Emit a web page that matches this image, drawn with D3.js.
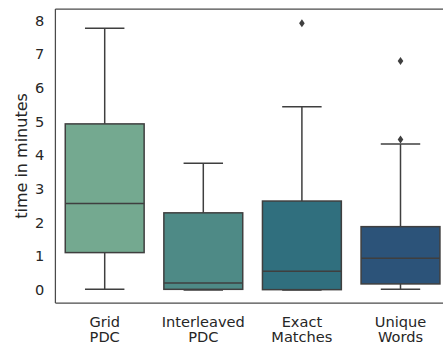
<!DOCTYPE html>
<html><head><meta charset="utf-8">
<script src="https://cdn.jsdelivr.net/npm/d3@7"></script>
<style>body{margin:0;background:#fff}svg{display:block}text{font-family:"DejaVu Sans",sans-serif;fill:#262626}</style>
</head><body>
<script>
const categories = [["Grid","PDC"],["Interleaved","PDC"],["Exact","Matches"],["Unique","Words"]];
const whiskerLow = [0.02, 0.0, 0.0, 0.02];
const q1 = [1.11, 0.02, 0.01, 0.18];
const medians = [2.57, 0.21, 0.56, 0.94];
const q3 = [4.93, 2.29, 2.64, 1.88];
const whiskerHigh = [7.77, 3.76, 5.44, 4.33];
const outliers = [[], [], [7.92], [6.80, 4.47]];
const colors = ["#74a990", "#4e8a86", "#306f7e", "#2c5379"];
const yTicks = [0,1,2,3,4,5,6,7,8];

(function(){
const W = 443, H = 345;
const svg = d3.select("body").append("svg").attr("width", W).attr("height", H);
const pl = 55.4, pr = 449.8, pt = 9, pb = 303;
const x = d3.scaleBand().domain(d3.range(categories.length)).range([pl, pr]);
const y = d3.scaleLinear().domain([-0.386, 8.34]).range([pb, pt]);
const bw = x.bandwidth() * 0.8;
const edge = "#3f3f3f";

const g = svg.append("g");
categories.forEach((c, i) => {
  const cx = x(i) + x.bandwidth() / 2;
  g.append("line").attr("x1", cx).attr("x2", cx).attr("y1", y(q3[i])).attr("y2", y(whiskerHigh[i])).attr("stroke", edge).attr("stroke-width", 1.5);
  g.append("line").attr("x1", cx).attr("x2", cx).attr("y1", y(q1[i])).attr("y2", y(whiskerLow[i])).attr("stroke", edge).attr("stroke-width", 1.5);
  [whiskerHigh[i], whiskerLow[i]].forEach(v => {
    g.append("line").attr("x1", cx - bw / 4).attr("x2", cx + bw / 4).attr("y1", y(v)).attr("y2", y(v)).attr("stroke", edge).attr("stroke-width", 1.5);
  });
  g.append("rect").attr("x", cx - bw / 2).attr("width", bw).attr("y", y(q3[i])).attr("height", y(q1[i]) - y(q3[i]))
    .attr("fill", colors[i]).attr("stroke", edge).attr("stroke-width", 1.5);
  g.append("line").attr("x1", cx - bw / 2).attr("x2", cx + bw / 2).attr("y1", y(medians[i])).attr("y2", y(medians[i])).attr("stroke", edge).attr("stroke-width", 1.5);
  outliers[i].forEach(v => {
    const yy = y(v);
    g.append("path").attr("d", `M${cx},${yy-4}L${cx+2.8},${yy}L${cx},${yy+4}L${cx-2.8},${yy}Z`).attr("fill", edge);
  });
});

const spine = "#4a4a4a";
svg.append("line").attr("x1", pl).attr("x2", pl).attr("y1", pt).attr("y2", pb).attr("stroke", spine).attr("stroke-width", 1.25);
svg.append("line").attr("x1", pl).attr("x2", pr).attr("y1", pb).attr("y2", pb).attr("stroke", spine).attr("stroke-width", 1.25);
svg.append("line").attr("x1", pl).attr("x2", pr).attr("y1", pt).attr("y2", pt).attr("stroke", spine).attr("stroke-width", 1.25);
svg.append("line").attr("x1", pr).attr("x2", pr).attr("y1", pt).attr("y2", pb).attr("stroke", spine).attr("stroke-width", 1.25);

const yAxis = svg.append("g").attr("transform", `translate(${pl},0)`)
  .call(d3.axisLeft(y).tickValues(yTicks).tickSize(0).tickPadding(11).tickFormat(d3.format("d")));
yAxis.select(".domain").remove();
yAxis.selectAll("text").style("font-size", "14.6px").style("font-family", "DejaVu Sans").attr("fill", "#262626");

const xl = svg.append("g");
categories.forEach((c, i) => {
  const cx = x(i) + x.bandwidth() / 2;
  const t = xl.append("text").attr("text-anchor", "middle").attr("x", cx).attr("y", 326.7).style("font-size", "14.6px");
  t.append("tspan").attr("x", cx).attr("dy", 0).text(c[0]);
  t.append("tspan").attr("x", cx).attr("dy", 15).text(c[1]);
});

svg.append("text").attr("transform", `translate(27,${(pt+pb)/2}) rotate(-90)`).attr("text-anchor", "middle")
  .style("font-size", "16px").text("time in minutes");
})();
</script>
</body></html>
